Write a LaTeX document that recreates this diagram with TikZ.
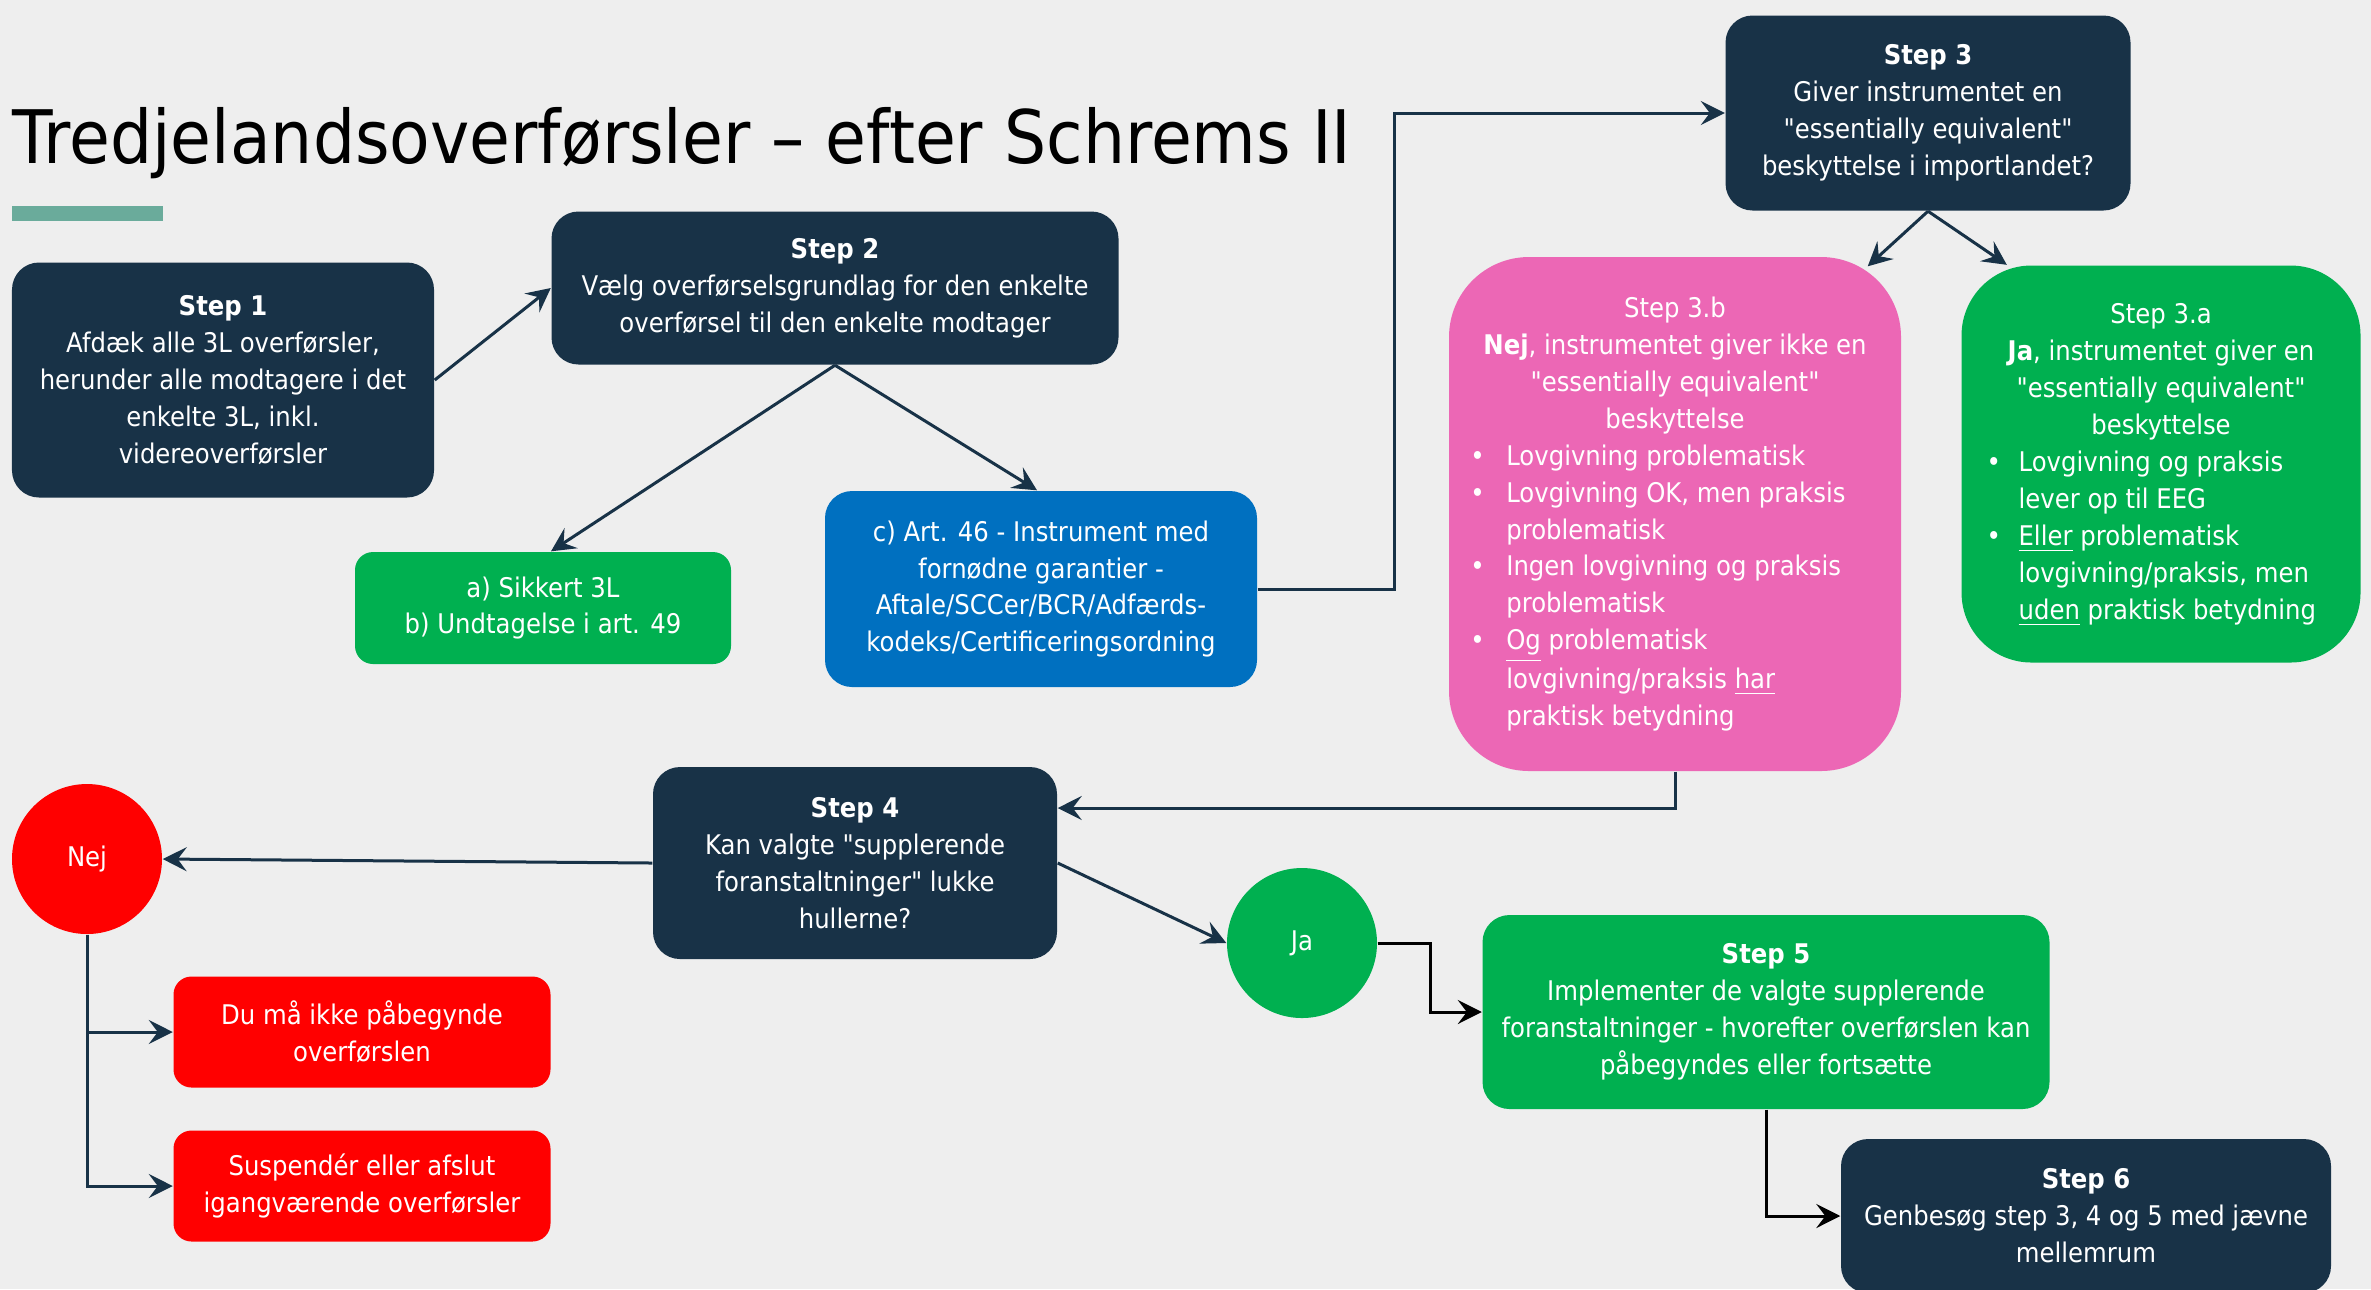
\documentclass[tikz,border=0pt]{standalone}
\usepackage{fontspec}
\setmainfont{DejaVu Sans}[FakeStretch=0.9, Ligatures=TeXOff]
\usetikzlibrary{positioning,arrows.meta}

\definecolor{navy}{HTML}{183247}
\definecolor{okgreen}{HTML}{00B050}
\definecolor{artblue}{HTML}{0070C0}
\definecolor{nopink}{HTML}{EC67B5}
\definecolor{stopred}{HTML}{FF0000}
\definecolor{slidebg}{HTML}{EEEEEE}
\definecolor{titlebar}{HTML}{6AAB9B}

\newcommand{\blt}{\textbullet}

\begin{document}
\begin{tikzpicture}[
        box/.style={rounded corners=0.27cm, text=white, align=center, inner sep=0pt,
            font=\fontsize{7.7}{10.5}\selectfont},
        stepbox/.style={box, fill=navy},
        greenbox/.style={box, fill=okgreen, rounded corners=0.18cm},
        redbox/.style={box, fill=stopred, rounded corners=0.18cm,
            minimum width=3.77cm, minimum height=1.11cm},
        answer/.style={circle, text=white, minimum size=1.5cm, inner sep=0pt,
            font=\fontsize{7.7}{10.5}\selectfont},
        conn/.style={draw=navy, line width=0.03cm,
            -{Stealth[length=0.24cm, width=0.24cm, inset=0.09cm]}},
        blackconn/.style={conn, draw=black}
    ]
    \useasboundingbox (0,0) rectangle (23.71,-12.89);
    \fill[slidebg] (0,0) rectangle (23.71,-12.89);

    % title
    \node[anchor=base west, inner sep=0pt, font=\fontsize{21}{25}\selectfont] (title) at (0.12,-1.63)
        {Tredjelandsoverførsler – efter Schrems II};
    \fill[titlebar] (0.12,-2.06) rectangle (1.63,-2.21);

    % step 1 and 2
    \node[stepbox, minimum width=4.22cm, minimum height=2.35cm] (step1) at (2.23,-3.80)
        {\textbf{Step 1}\\Afdæk alle 3L overførsler,\\herunder alle modtagere i det\\enkelte 3L, inkl.\\videreoverførsler};
    \node[stepbox, minimum width=5.67cm, minimum height=1.53cm] (step2) at (8.35,-2.88)
        {\textbf{Step 2}\\Vælg overførselsgrundlag for den enkelte\\overførsel til den enkelte modtager};
    \node[greenbox, minimum width=3.76cm, minimum height=1.12cm] (sikkert) at (5.43,-6.08)
        {a) Sikkert 3L\\b) Undtagelse i art. 49};
    \node[box, fill=artblue, minimum width=4.32cm, minimum height=1.96cm] (art46) at (10.41,-5.89)
        {c) Art. 46 - Instrument med\\fornødne garantier -\\Aftale/SCCer/BCR/Adfærds-\\kodeks/Certificeringsordning};

    % step 3
    \node[stepbox, minimum width=4.05cm, minimum height=1.95cm] (step3) at (19.28,-1.13)
        {\textbf{Step 3}\\Giver instrumentet en\\"essentially equivalent"\\beskyttelse i importlandet?};
    \node[box, fill=nopink, rounded corners=0.8cm, minimum width=4.52cm, minimum height=5.14cm] (step3b) at (16.75,-5.14)
        {\begin{tabular}{@{\hspace{0.08cm}}p{0.36cm}@{}l@{}}
            \multicolumn{2}{c}{Step 3.b}\\
            \multicolumn{2}{c}{\textbf{Nej}, instrumentet giver ikke en}\\
            \multicolumn{2}{c}{"essentially equivalent"}\\
            \multicolumn{2}{c}{beskyttelse}\\
            \blt & Lovgivning problematisk\\
            \blt & Lovgivning OK, men praksis\\
                 & problematisk\\
            \blt & Ingen lovgivning og praksis\\
                 & problematisk\\
            \blt & \underline{Og} problematisk\\
                 & lovgivning/praksis \underline{har}\\
                 & praktisk betydning
        \end{tabular}};
    \node[box, fill=okgreen, rounded corners=0.7cm, minimum width=3.99cm, minimum height=3.97cm] (step3a) at (21.61,-4.64)
        {\begin{tabular}{@{}p{0.32cm}@{}l@{}}
            \multicolumn{2}{c}{Step 3.a}\\
            \multicolumn{2}{c}{\textbf{Ja}, instrumentet giver en}\\
            \multicolumn{2}{c}{"essentially equivalent"}\\
            \multicolumn{2}{c}{beskyttelse}\\
            \blt & Lovgivning og praksis\\
                 & lever op til EEG\\
            \blt & \underline{Eller} problematisk\\
                 & lovgivning/praksis, men\\
                 & \underline{uden} praktisk betydning
        \end{tabular}};

    % step 4 and answers
    \node[stepbox, minimum width=4.04cm, minimum height=1.92cm] (step4) at (8.55,-8.63)
        {\textbf{Step 4}\\Kan valgte "supplerende\\foranstaltninger" lukke\\hullerne?};
    \node[answer, fill=stopred] (nej) at (0.87,-8.59) {Nej};
    \node[redbox] (stop1) at (3.62,-10.32) {Du må ikke påbegynde\\overførslen};
    \node[redbox] (stop2) at (3.62,-11.86) {Suspendér eller afslut\\igangværende overførsler};
    \node[answer, fill=okgreen] (ja) at (13.02,-9.43) {Ja};

    % step 5 and 6
    \node[greenbox, rounded corners=0.27cm, minimum width=5.67cm, minimum height=1.94cm] (step5) at (17.66,-10.12)
        {\textbf{Step 5}\\Implementer de valgte supplerende\\foranstaltninger - hvorefter overførslen kan\\påbegyndes eller fortsætte};
    \node[stepbox, minimum width=4.90cm, minimum height=1.54cm] (step6) at (20.86,-12.16)
        {\textbf{Step 6}\\Genbesøg step 3, 4 og 5 med jævne\\mellemrum};

    % connectors
    \draw[conn] (step1.east) -- (step2.west);
    \draw[conn] (step2.south) -- ([xshift=0.08cm]sikkert.north);
    \draw[conn] (step2.south) -- ([xshift=-0.04cm]art46.north);
    \draw[conn] (art46.east) -- ++(1.37,0) |- (step3.west);
    \draw[conn] (step3.south) -- ([xshift=-0.34cm, yshift=-0.1cm]step3b.north east);
    \draw[conn] (step3.south) -- ([xshift=0.46cm]step3a.north west);
    \draw[conn] (step3b.south) |- ([yshift=0.55cm]step4.east);
    \draw[conn] (step4.west) -- (nej.east);
    \draw[conn] (step4.east) -- (ja.west);
    \draw[conn] (nej.south) |- (stop1.west);
    \draw[conn] (nej.south) |- (stop2.west);
    \draw[blackconn] (ja.east) -- ++(0.53,0) |- (step5.west);
    \draw[blackconn] (step5.south) |- (step6.west);
\end{tikzpicture}
\end{document}
